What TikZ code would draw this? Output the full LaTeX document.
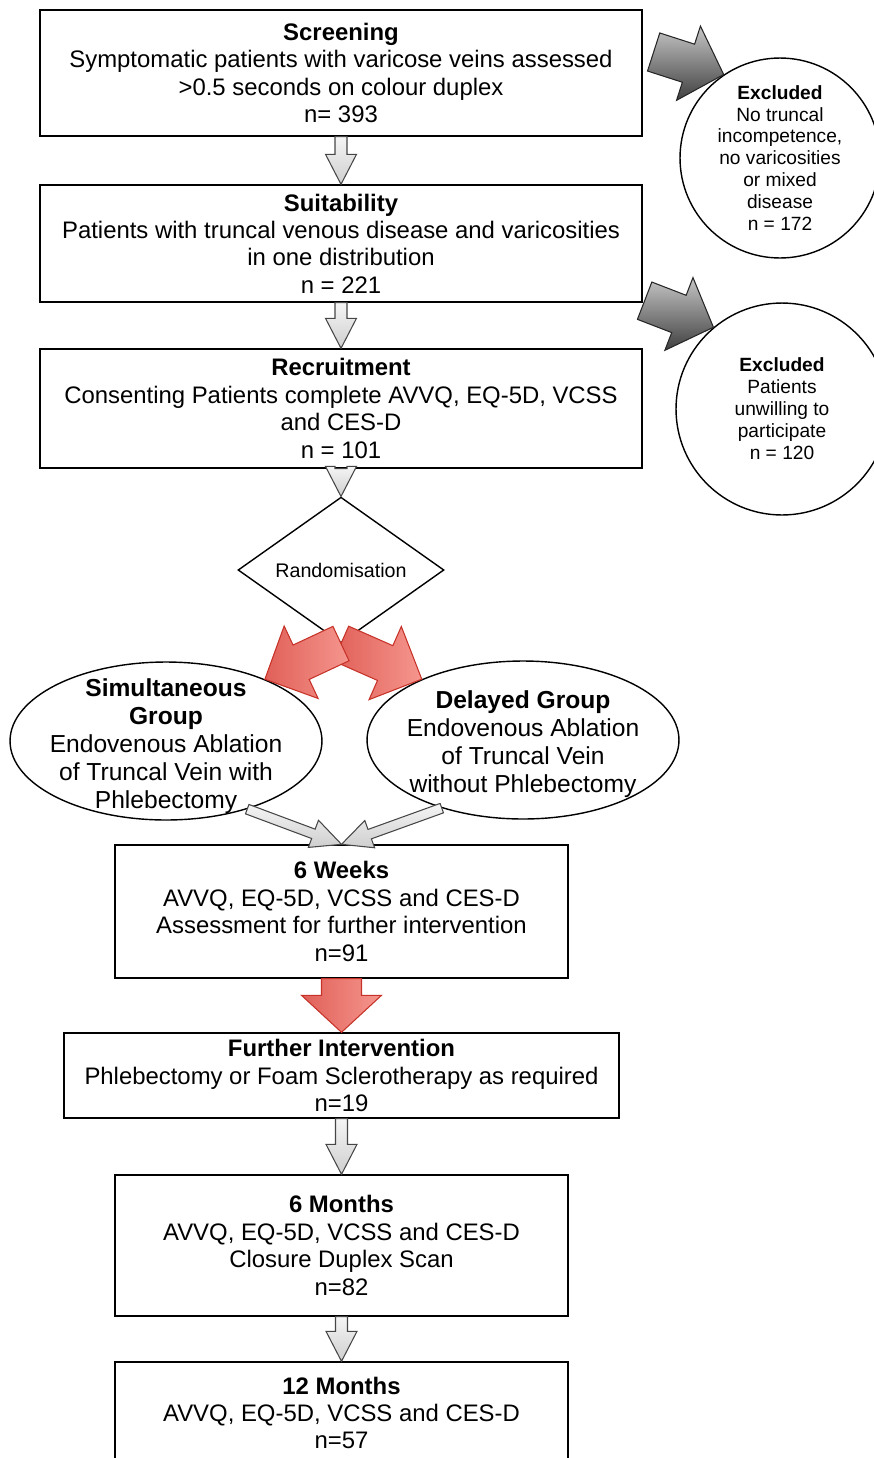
\documentclass[tikz,border=0pt]{standalone}
\usepackage{fontspec}
\setmainfont{Liberation Sans}
\usepackage{xcolor}
\usepackage{tikz}
\usetikzlibrary{shapes.geometric,calc}

\definecolor{redfillA}{RGB}{224,96,88}
\definecolor{redfillB}{RGB}{245,150,142}
\definecolor{redline}{RGB}{198,50,40}

\newcommand{\boxfont}{\fontsize{13.6}{15.6}\selectfont}
\newcommand{\groupfont}{\fontsize{14}{15.9}\selectfont}
\newcommand{\exclfont}{\fontsize{10.9}{12.5}\selectfont}
\newcommand{\randfont}{\fontsize{11.2}{13}\selectfont}

% block arrow: style, from, to, shaft half width, head half width, head length
\newcommand{\blockarrow}[6]{%
  \coordinate (ba-a) at #2;
  \coordinate (ba-b) at #3;
  \coordinate (ba-h) at ($(ba-b)!#6!(ba-a)$);
  \path[#1] ($(ba-a)!#4!90:(ba-b)$) -- ($(ba-h)!#4!90:(ba-b)$)
    -- ($(ba-h)!#5!90:(ba-b)$) -- (ba-b) -- ($(ba-h)!#5!-90:(ba-b)$)
    -- ($(ba-h)!#4!-90:(ba-b)$) -- ($(ba-a)!#4!-90:(ba-b)$) -- cycle;
}

\tikzset{
  stage/.style={draw, line width=0.8pt, fill=white, align=center, inner sep=0pt, font=\boxfont},
  group/.style={draw, ellipse, line width=0.8pt, fill=white, minimum width=6.24cm, minimum height=3.16cm},
  grouptext/.style={align=center, inner sep=0pt, font=\groupfont},
  excl/.style={draw, circle, line width=0.8pt, fill=white, align=center, inner sep=0pt, font=\exclfont},
  greyarrow/.style={draw=gray!55!black, line width=0.6pt, top color=gray!8, bottom color=gray!38},
  redarrow/.style={draw=redline, line width=0.6pt, left color=redfillA, right color=redfillB},
  darkarrow/.style={draw=black!85, line width=0.6pt, top color=gray!45, bottom color=black!75}
}

\begin{document}
\begin{tikzpicture}[x=0.02cm, y=-0.02cm]
            \useasboundingbox (0,0) rectangle (874,1458);
            \clip (0,0) rectangle (874,1458);

            %% stages
            \node[stage, minimum width=12.04cm, minimum height=2.52cm] (screen) at (341,73)
                {\textbf{Screening}\\ Symptomatic patients with varicose veins assessed\\ >0.5 seconds on colour duplex\\ n= 393};
            \node[stage, minimum width=12.04cm, minimum height=2.34cm] (suit) at (341,243.5)
                {\textbf{Suitability}\\ Patients with truncal venous disease and varicosities\\ in one distribution\\ n = 221};
            \node[stage, minimum width=12.04cm, minimum height=2.38cm] (recruit) at (341,408.5)
                {\textbf{Recruitment}\\ Consenting Patients complete AVVQ, EQ-5D, VCSS\\ and CES-D\\ n = 101};

            %% randomisation
            \node[diamond, draw, line width=0.8pt, fill=white, minimum width=4.12cm, minimum height=2.36cm,
                  inner sep=0pt, font=\randfont] (rand) at (341,570) {Randomisation};

            %% groups
            \node[group] (sim) at (166,741) {};
            \node[grouptext] (simtext) at (166,746)
                {\textbf{Simultaneous}\\ \textbf{Group}\\ Endovenous Ablation\\ of Truncal Vein with\\ Phlebectomy};
            \node[group] (del) at (523,740) {};
            \node[grouptext] (deltext) at (523,744)
                {\textbf{Delayed Group}\\ Endovenous Ablation\\ of Truncal Vein\\ without Phlebectomy};

            %% follow up
            \node[stage, minimum width=9.06cm, minimum height=2.66cm] (weeks) at (341.5,911.5)
                {\textbf{6 Weeks}\\ AVVQ, EQ-5D, VCSS and CES-D\\ Assessment for further intervention\\ n=91};
            \node[stage, minimum width=11.1cm, minimum height=1.7cm] (further) at (341.5,1075.5)
                {\textbf{Further Intervention}\\ Phlebectomy or Foam Sclerotherapy as required\\ n=19};
            \node[stage, minimum width=9.06cm, minimum height=2.82cm] (months) at (341.5,1245.5)
                {\textbf{6 Months}\\ AVVQ, EQ-5D, VCSS and CES-D\\ Closure Duplex Scan\\ n=82};
            \node[stage, minimum width=9.06cm, minimum height=2.04cm] (year) at (341.5,1413)
                {\textbf{12 Months}\\ AVVQ, EQ-5D, VCSS and CES-D\\ n=57};

            %% excluded
            \node[excl, minimum size=4cm] (exscreen) at (780,158)
                {\textbf{Excluded}\\ No truncal\\ incompetence,\\ no varicosities\\ or mixed\\ disease\\ n = 172};
            \node[excl, minimum size=4.24cm] (exrecruit) at (782,409)
                {\textbf{Excluded}\\ Patients\\ unwilling to\\ participate\\ n = 120};

            % grey arrows
            \blockarrow{greyarrow}{(screen.south)}{(suit.north)}{0.12cm}{0.31cm}{0.6cm}
            \blockarrow{greyarrow}{(suit.south)}{(recruit.north)}{0.12cm}{0.31cm}{0.6cm}
            \blockarrow{greyarrow}{(recruit.south)}{(rand.north)}{0.12cm}{0.31cm}{0.6cm}
            \blockarrow{greyarrow}{(further.south)}{(months.north)}{0.12cm}{0.31cm}{0.6cm}
            \blockarrow{greyarrow}{(months.south)}{(year.north)}{0.12cm}{0.31cm}{0.6cm}
            \blockarrow{greyarrow}{(sim.-40)}{(weeks.north)}{0.1cm}{0.29cm}{0.6cm}
            \blockarrow{greyarrow}{(del.-140)}{(weeks.north)}{0.1cm}{0.29cm}{0.6cm}

            % red arrows
            \blockarrow{redarrow}{(rand.south)}{(del.149)}{0.38cm}{0.8cm}{0.8cm}
            \blockarrow{redarrow}{(rand.south)}{(sim.32)}{0.38cm}{0.8cm}{0.8cm}
            \blockarrow{redarrow}{(weeks.south)}{(further.north)}{0.4cm}{0.8cm}{0.74cm}

            % exclusions
            \blockarrow{darkarrow}{($(screen.east)+(11,-21)$)}{(exscreen.124)}{0.4cm}{0.78cm}{0.74cm}
            \blockarrow{darkarrow}{($(suit.south east)+(2,-2)$)}{(exrecruit.130)}{0.4cm}{0.78cm}{0.74cm}

\end{tikzpicture}
\end{document}
